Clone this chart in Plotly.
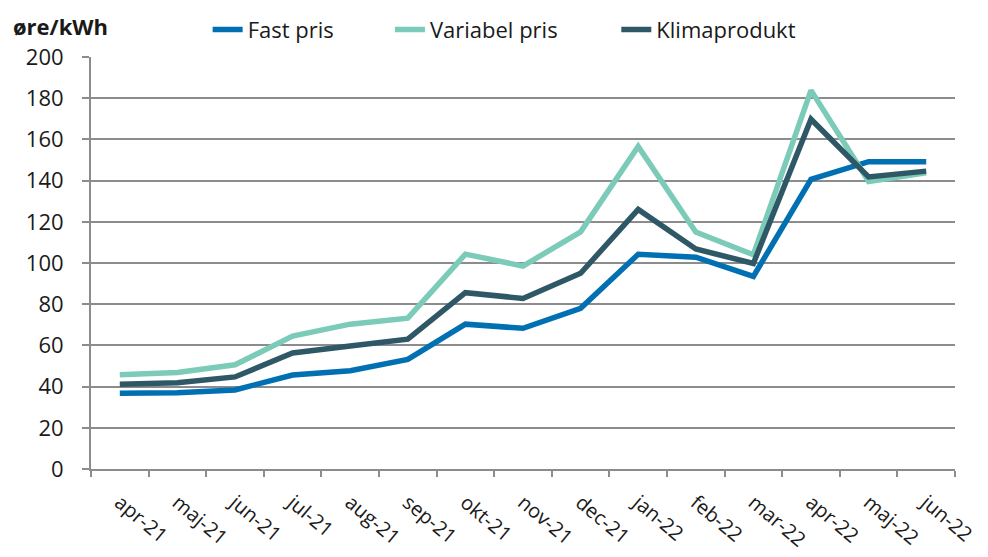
import plotly.graph_objects as go

months = ["apr-21", "maj-21", "jun-21", "jul-21", "aug-21", "sep-21", "okt-21", "nov-21",
          "dec-21", "jan-22", "feb-22", "mar-22", "apr-22", "maj-22", "jun-22"]
fast_pris = [36.8, 37.0, 38.4, 45.6, 47.7, 53.2, 70.3, 68.3, 78.0, 104.2, 102.8, 93.5, 140.6, 149.2, 149.2]
variabel_pris = [45.7, 46.8, 50.6, 64.5, 70.3, 73.2, 104.3, 98.5, 115.1, 156.6, 115.0, 104.0, 183.8, 139.6, 143.8]
klimaprodukt = [41.1, 41.9, 44.7, 56.3, 59.7, 63.0, 85.6, 82.8, 95.0, 126.0, 106.8, 99.8, 169.8, 141.8, 144.6]

# name, values, colour, legend id, legend x (paper)
series = [
    ("Fast pris", fast_pris, "#0070b3", "legend", 0.135),
    ("Variabel pris", variabel_pris, "#7ccbb9", "legend2", 0.346),
    ("Klimaprodukt", klimaprodukt, "#2f5866", "legend3", 0.608),
]

FONT = "Open Sans"
GRID = "#8c8c8c"
TOP_Y = 1.117  # top edge of the figure in paper units

fig = go.Figure()
legends = {}
for name, vals, col, leg, lx in series:
    fig.add_trace(go.Scatter(x=months, y=vals, name=name, mode="lines", legend=leg,
                             line=dict(color=col, width=5.5)))
    legends[leg] = dict(orientation="h", x=lx, xanchor="left", y=TOP_Y, yanchor="top",
                        font=dict(size=22), bgcolor="rgba(0,0,0,0)")

# page body has an 8px offset, margins are set so the plot area lands where the reference has it
fig.update_layout(
    width=988, height=557,
    margin=dict(l=83, r=41, t=49, b=96, autoexpand=False),
    paper_bgcolor="white", plot_bgcolor="white",
    font=dict(family=FONT, size=20, color="#1a1a1a"),
    showlegend=True,
    annotations=[dict(text="<b>øre/kWh</b>", xref="paper", yref="paper",
                      x=-0.093, y=TOP_Y, xanchor="left", yanchor="top",
                      showarrow=False, font=dict(size=22, family=FONT))],
    **legends,
)
fig.update_xaxes(type="category", range=[-0.5, 14.5], showgrid=False,
                 showline=True, linecolor=GRID, linewidth=2,
                 ticks="outside", tickson="boundaries", ticklen=6, tickcolor=GRID, tickwidth=2,
                 tickangle=40, ticklabelstandoff=12, tickfont=dict(size=20))
fig.update_yaxes(range=[0, 200], dtick=20, showgrid=True, gridcolor=GRID, gridwidth=2,
                 showline=True, linecolor=GRID, linewidth=2, zeroline=False,
                 ticks="outside", ticklen=7, tickcolor=GRID, tickwidth=2,
                 ticklabelstandoff=14, tickfont=dict(size=22))

fig.write_html("out.html")
